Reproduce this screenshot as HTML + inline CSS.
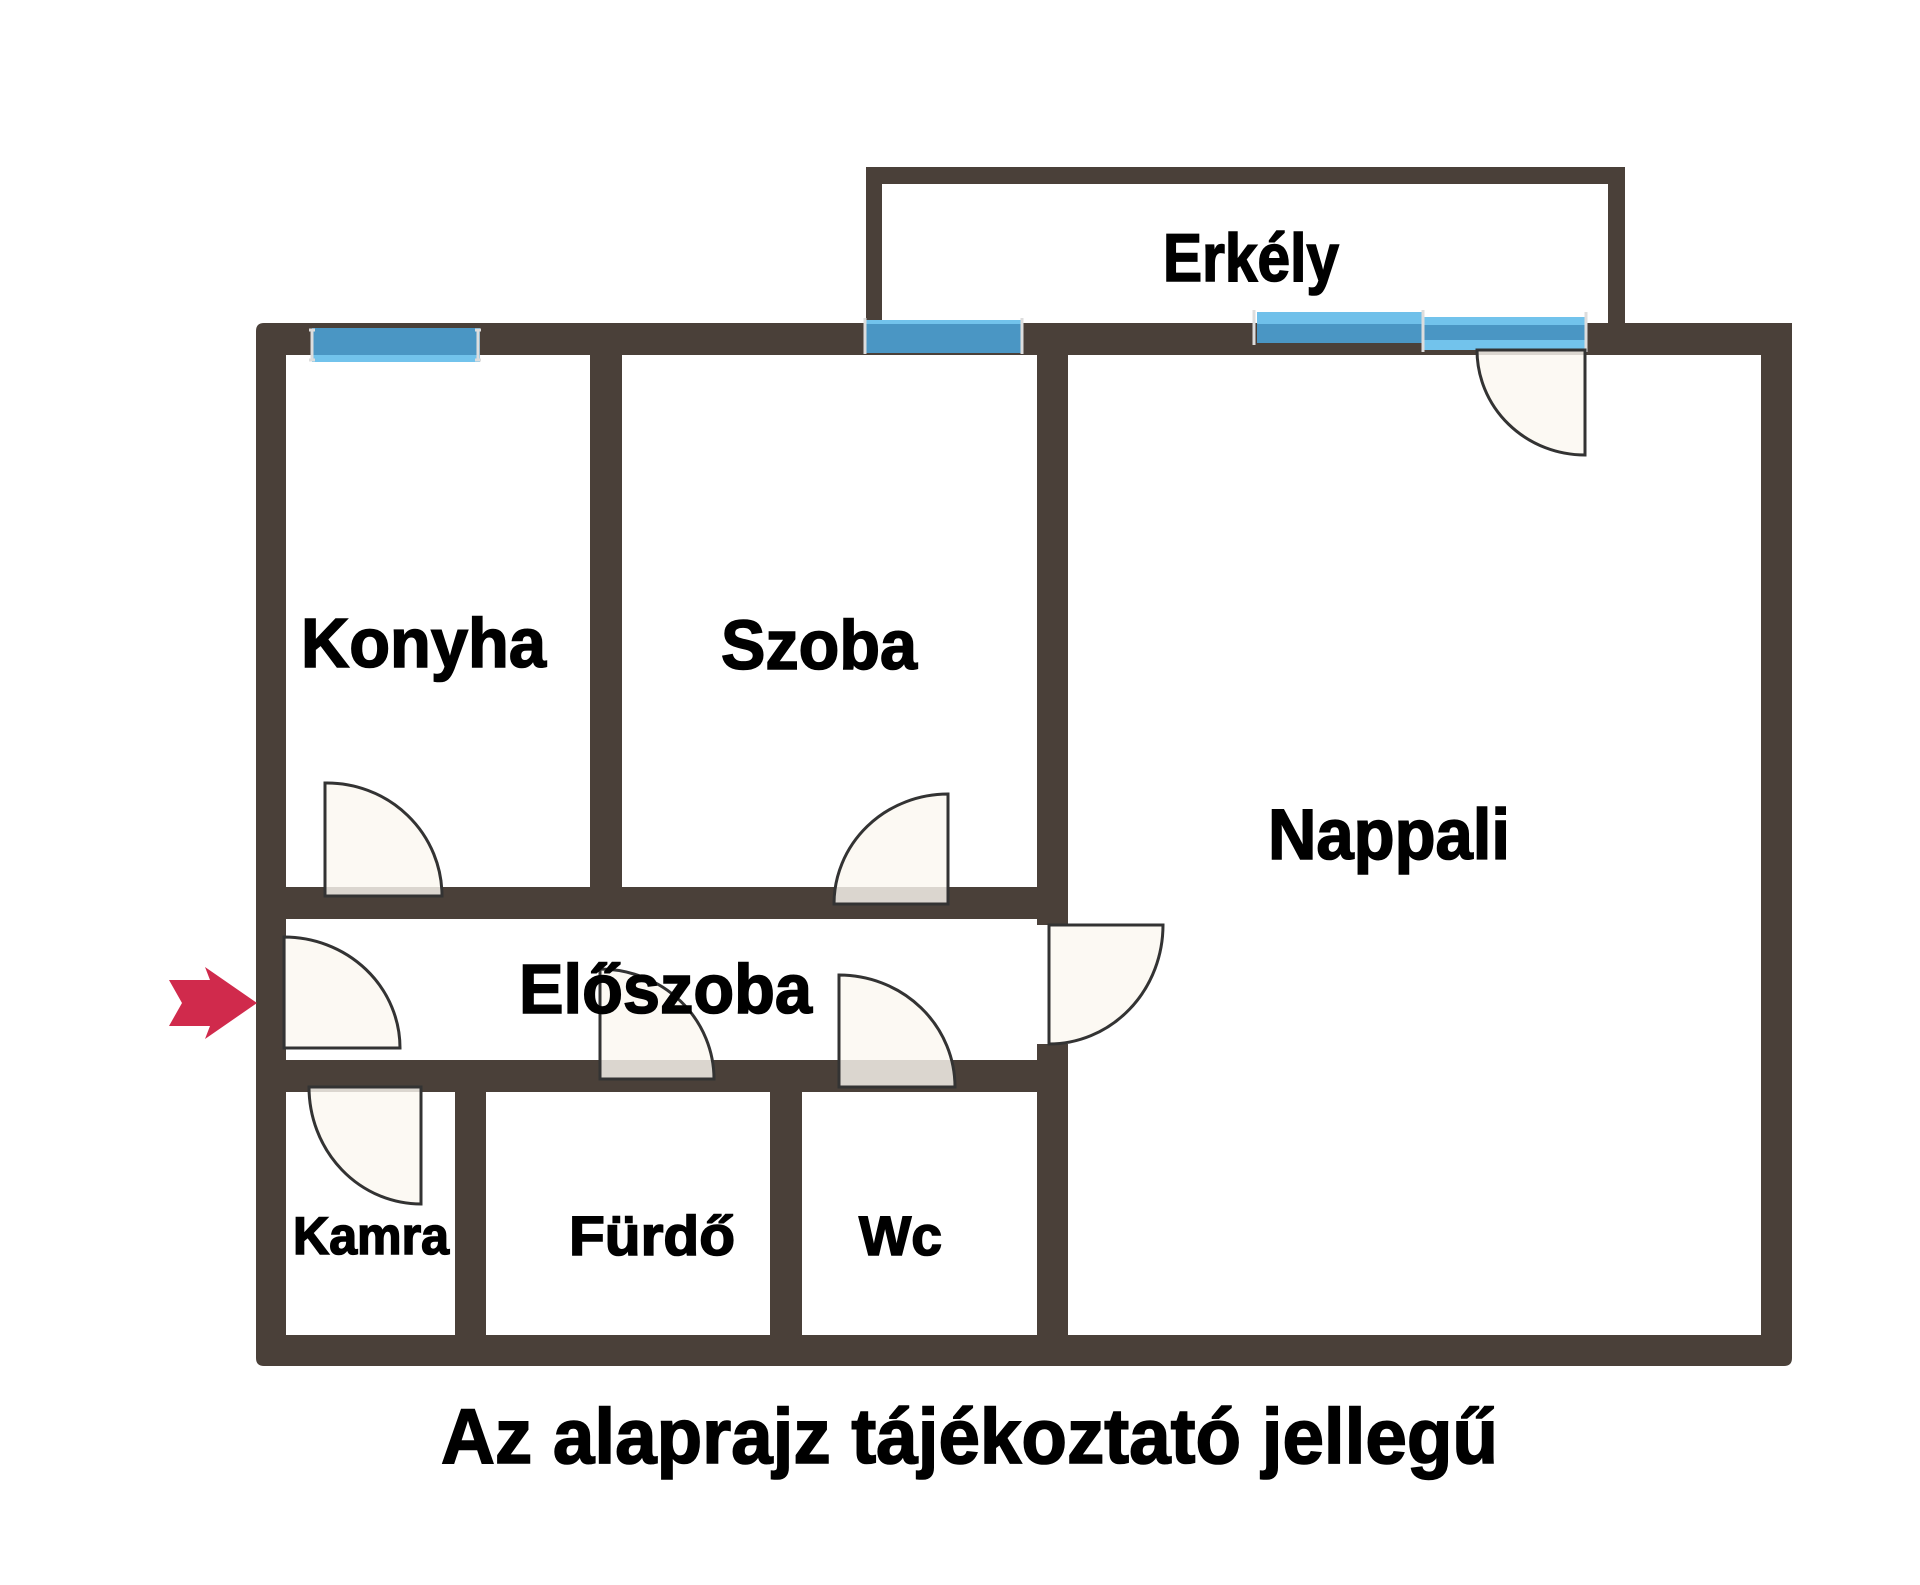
<!DOCTYPE html>
<html><head><meta charset="utf-8"><style>
html,body{margin:0;padding:0;background:#fff;}
svg{display:block;}
text{font-family:"Liberation Sans",Arial,sans-serif;font-weight:bold;fill:#000;stroke:#000;stroke-width:1.6;}
</style></head><body>
<svg width="1920" height="1585" viewBox="0 0 1920 1585" xmlns="http://www.w3.org/2000/svg">
<rect width="1920" height="1585" fill="#fff"/>
<g fill="#4a4039">
  <rect x="866" y="167" width="759" height="17"/>
  <rect x="866" y="167" width="16" height="170"/>
  <rect x="1608" y="167" width="17" height="170"/>
  <path d="M264 323 H1792 V1358 Q1792 1366 1784 1366 H264 Q256 1366 256 1358 V331 Q256 323 264 323 Z M286 355 V1335 H1761 V355 Z" fill-rule="evenodd"/>
  <rect x="590" y="323" width="32" height="596"/>
  <rect x="1037" y="323" width="31" height="602"/>
  <rect x="1037" y="1044" width="31" height="322"/>
  <rect x="256" y="887" width="812" height="32"/>
  <rect x="256" y="1060" width="812" height="32"/>
  <rect x="455" y="1060" width="31" height="306"/>
  <rect x="770" y="1060" width="32" height="306"/>
</g>
<g>
  <rect x="312" y="328" width="168" height="28" fill="#4a96c4"/>
  <rect x="312" y="355" width="168" height="7" fill="#72c3ec"/>
  <rect x="866" y="320" width="155" height="33" fill="#4a96c4"/>
  <rect x="866" y="320" width="155" height="4" fill="#72c3ec"/>
  <rect x="1257" y="312" width="165" height="31" fill="#4a96c4"/>
  <rect x="1257" y="312" width="165" height="12" fill="#6fc0ea"/>
  <rect x="1424" y="317" width="161" height="33" fill="#4a96c4"/>
  <rect x="1424" y="317" width="161" height="8" fill="#72c3ec"/>
  <rect x="1424" y="340" width="161" height="10" fill="#72c3ec"/>
</g>
<g stroke="#ddd" stroke-width="3" fill="none">
  <path d="M309 330 h6 M312 330 v30 M309 360 h6 M481 330 h-6 M478 330 v30 M475 360 h6"/>
  <path d="M865 318 v36 M1022 318 v36 M1254 310 v35 M1423 310 v42 M1586 312 v40"/>
</g>
<g fill="#fbf8f0" fill-opacity="0.82" stroke="#333" stroke-width="3">
  <path d="M1585 350 L1477 350 A108 105 0 0 0 1585 455 Z"/>
  <path d="M325 896 L325 783 A115 113 0 0 1 442 896 Z"/>
  <path d="M948 904 L948 794 A114 110 0 0 0 834 904 Z"/>
  <path d="M284 1048 L284 937 A116 111 0 0 1 400 1048 Z"/>
  <path d="M600 1079 L600 969 A114 110 0 0 1 714 1079 Z"/>
  <path d="M839 1087 L839 975 A116 112 0 0 1 955 1087 Z"/>
  <path d="M421 1087 L309 1087 A112 117 0 0 0 421 1204 Z"/>
  <path d="M1049 925 L1163 925 A114 119 0 0 1 1049 1044 Z"/>
</g>
<path d="M169 980 L210 980 L205 967 L257 1003 L205 1039 L210 1026 L169 1026 L182 1003 Z" fill="#d02a4c"/>
<text x="1163" y="281" font-size="68" textLength="176" lengthAdjust="spacingAndGlyphs">Erkély</text>
<text x="301" y="667" font-size="70" textLength="245" lengthAdjust="spacingAndGlyphs">Konyha</text>
<text x="721" y="669" font-size="70" textLength="196" lengthAdjust="spacingAndGlyphs">Szoba</text>
<text x="1268" y="859" font-size="71" textLength="242" lengthAdjust="spacingAndGlyphs">Nappali</text>
<text x="519" y="1013" font-size="70" textLength="293" lengthAdjust="spacingAndGlyphs">Előszoba</text>
<text x="293" y="1254" font-size="53" textLength="156" lengthAdjust="spacingAndGlyphs">Kamra</text>
<text x="569" y="1255" font-size="56" textLength="166" lengthAdjust="spacingAndGlyphs">Fürdő</text>
<text x="859" y="1255" font-size="56" textLength="83" lengthAdjust="spacingAndGlyphs">Wc</text>
<text x="441" y="1463" font-size="78" textLength="1057" lengthAdjust="spacingAndGlyphs">Az alaprajz tájékoztató jellegű</text>
</svg>
</body></html>
